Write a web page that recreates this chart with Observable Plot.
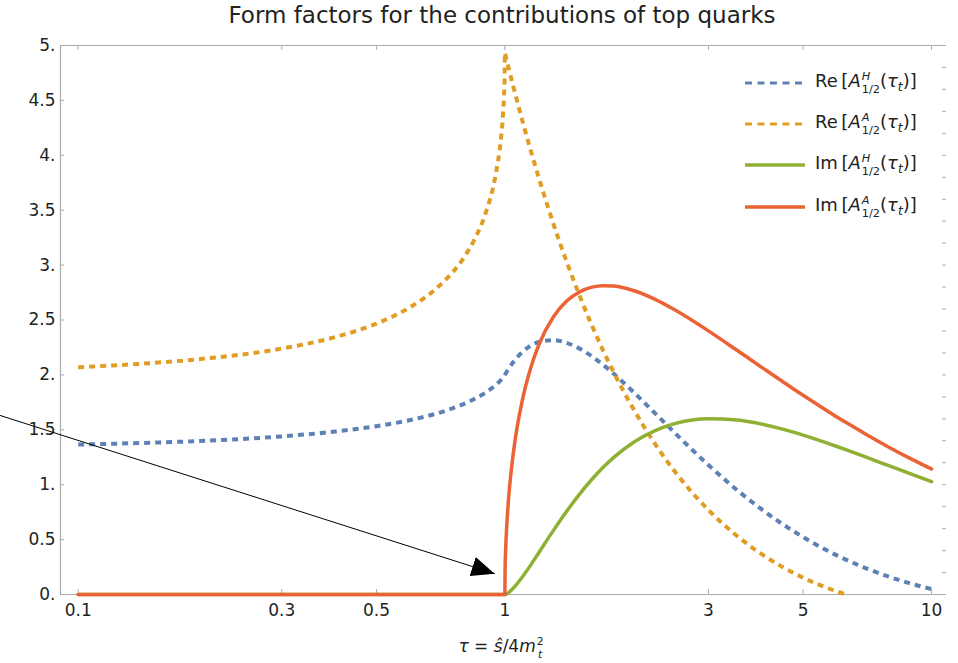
<!DOCTYPE html>
<html>
<head>
<meta charset="utf-8">
<script src="https://cdn.jsdelivr.net/npm/d3@7"></script>
<script src="https://cdn.jsdelivr.net/npm/@observablehq/plot@0.6"></script>
<style>
  html, body { margin: 0; padding: 0; background: #fff; }
  #wrap { position: relative; width: 958px; height: 663px; font-family: "DejaVu Sans", sans-serif; color: #222; }
  #title { position: absolute; top: 2px; left: 0; width: 1004px; text-align: center; font-size: 23px; }
  #xlabel { position: absolute; top: 636px; left: 0; width: 1002px; text-align: center; font-size: 17px; }
  .legend-row { position: absolute; left: 744px; height: 30px; display: flex; align-items: center; font-size: 18px; white-space: nowrap; }
  .legend-row svg { margin-right: 9px; }
  .ss { display: inline-flex; flex-direction: column; font-size: 0.63em; line-height: 1.17; vertical-align: 0.66em; margin-left: 1px; }
  .ss span { display: block; }
  .sub { font-size: 0.68em; vertical-align: -0.3em; }
  i { font-style: italic; }
</style>
</head>
<body>
<div id="wrap">
  <div id="chart"></div>
  <div id="title">Form factors for the contributions of top quarks</div>
  <div id="legend"></div>
  <div id="xlabel"><i>τ</i> = <i>ŝ</i>/4<i>m</i><span class="ss" style="vertical-align:0.62em"><span>2</span><span><i>t</i></span></span></div>
</div>
<script>
// ---- data ----
const tau = [0.1, 0.15, 0.2, 0.3, 0.4, 0.5, 0.6, 0.7, 0.8, 0.85, 0.9, 0.95, 0.98, 0.99, 0.995, 0.999, 1,
  1.001, 1.005, 1.01, 1.02, 1.05, 1.1, 1.15, 1.2, 1.3, 1.4, 1.5, 1.6, 1.7, 1.8, 2, 2.25, 2.5, 3, 3.5, 4, 4.5, 5, 5.5, 6, 6.296, 7, 8, 9, 10];

const reH = [1.366, 1.383, 1.401, 1.440, 1.484, 1.533, 1.589, 1.654, 1.734, 1.782, 1.837, 1.905, 1.956, 1.976, 1.987, 1.997, 2.000,
  2.003, 2.014, 2.028, 2.055, 2.124, 2.210, 2.266, 2.300, 2.317, 2.290, 2.237, 2.169, 2.091, 2.010, 1.845, 1.650, 1.473, 1.179, 0.952, 0.775, 0.635, 0.523, 0.431, 0.356, 0.318, 0.241, 0.158, 0.096, 0.049];

const reA = [2.070, 2.109, 2.150, 2.240, 2.344, 2.467, 2.617, 2.807, 3.064, 3.238, 3.467, 3.810, 4.167, 4.369, 4.523, 4.743, 4.935,
  4.928, 4.900, 4.866, 4.799, 4.606, 4.310, 4.042, 3.799, 3.374, 3.017, 2.712, 2.449, 2.221, 2.022, 1.691, 1.370, 1.122, 0.769, 0.533, 0.367, 0.245, 0.153, 0.083, 0.027, 0, null, null, null, null];

const imH = [0, 0, 0, 0, 0, 0, 0, 0, 0, 0, 0, 0, 0, 0, 0, 0, 0,
  0.0002, 0.0022, 0.0061, 0.0170, 0.0632, 0.1616, 0.2695, 0.3783, 0.5839, 0.7649, 0.9194, 1.0495, 1.1582, 1.2484, 1.3845, 1.4931, 1.5558, 1.6004, 1.5887, 1.5515, 1.5034, 1.4513, 1.3989, 1.3478, 1.3186, 1.2527, 1.1683, 1.0939, 1.0283];

const imA = [0, 0, 0, 0, 0, 0, 0, 0, 0, 0, 0, 0, 0, 0, 0, 0, 0,
  0.198, 0.442, 0.621, 0.868, 1.327, 1.777, 2.066, 2.270, 2.530, 2.677, 2.758, 2.799, 2.813, 2.809, 2.769, 2.688, 2.593, 2.401, 2.224, 2.069, 1.933, 1.814, 1.710, 1.617, 1.568, 1.462, 1.335, 1.231, 1.143];

const seriesNames = ["Re[A^H_1/2(τ_t)]", "Re[A^A_1/2(τ_t)]", "Im[A^H_1/2(τ_t)]", "Im[A^A_1/2(τ_t)]"];
const seriesColors = ["#5E81B5", "#E19C24", "#8FB032", "#EB6235"];

const xTicks = [0.1, 0.3, 0.5, 1, 3, 5, 10];
const yTicks = [0, 0.5, 1, 1.5, 2, 2.5, 3, 3.5, 4, 4.5, 5];
const yRightTicks = [0.2, 0.4, 0.6, 0.8, 1, 1.2, 1.4, 1.6, 1.8, 2, 2.2, 2.4, 2.6, 2.8, 3, 3.2, 3.4, 3.6, 3.8, 4, 4.2, 4.4, 4.6, 4.8];
const xDomain = [0.0909, 10.84];
const yDomain = [0, 5];

// annotation arrow: start (off left of the frame) and tip near tau = 1
const arrowPts = [{x: 0.0657, y: 1.63}, {x: 0.946, y: 0.19}];

// ---- chart ----
const W = 958, H = 663, mT = 45, mB = 69, mL = 60, mR = 12;
const innerH = H - mT - mB, innerW = W - mL - mR;
const frameColor = "#aaaaaa";

function headMarker(color) {
  const m = d3.create("svg:marker")
    .attr("viewBox", "0 -10 23 20")
    .attr("refX", 23).attr("refY", 0)
    .attr("markerWidth", 23).attr("markerHeight", 20)
    .attr("markerUnits", "userSpaceOnUse")
    .attr("orient", "auto");
  m.append("path").attr("d", "M0,-10L23,0L0,10Z").attr("fill", color).attr("stroke", "none");
  return m.node();
}

const dashed = {strokeWidth: 4, strokeDasharray: "6,5", strokeLinecap: "butt"};
const solid = {strokeWidth: 3.5, strokeLinejoin: "round"};

const chart = Plot.plot({
  width: W, height: H,
  marginTop: mT, marginBottom: mB, marginLeft: mL, marginRight: mR,
  style: {fontFamily: "DejaVu Sans, sans-serif", fontSize: "17px", color: "#222", background: "transparent"},
  x: {type: "log", domain: xDomain, axis: null},
  y: {domain: yDomain, axis: null},
  marks: [
    // frame (left, bottom, top)
    Plot.ruleX([xDomain[0]], {stroke: frameColor, strokeWidth: 1.2}),
    Plot.ruleY([yDomain[0]], {stroke: frameColor, strokeWidth: 1.2}),
    Plot.ruleY([yDomain[1]], {stroke: frameColor, strokeWidth: 1.2}),
    // inward ticks
    Plot.tickX(xTicks, {x: d => d, insetTop: innerH - 5, stroke: frameColor}),
    Plot.tickX(xTicks, {x: d => d, insetBottom: innerH - 5, stroke: frameColor}),
    Plot.tickY(yTicks, {y: d => d, insetRight: innerW - 4, stroke: frameColor}),
    Plot.tickY(yRightTicks, {y: d => d, insetLeft: innerW - 4, stroke: frameColor}),
    // tick labels
    Plot.axisX({ticks: xTicks, tickSize: 0, tickPadding: 9, tickFormat: d => String(d), fontSize: 17, color: "#222", label: null}),
    Plot.axisY({ticks: yTicks, tickSize: 0, tickPadding: 5, tickFormat: d => Number.isInteger(d) ? d + "." : String(d), fontSize: 17, color: "#222", label: null}),
    // curves
    Plot.line(tau, {x: d => d, y: reH, stroke: seriesColors[0], curve: "monotone-x", ...dashed}),
    Plot.line(tau, {x: d => d, y: reA, stroke: seriesColors[1], curve: "monotone-x", ...dashed}),
    Plot.line(tau, {x: d => d, y: imH, stroke: seriesColors[2], curve: "monotone-x", ...solid}),
    Plot.line(tau, {x: d => d, y: imA, stroke: seriesColors[3], curve: "monotone-x", ...solid}),
    // annotation arrow
    Plot.line(arrowPts, {x: "x", y: "y", stroke: "black", strokeWidth: 1, markerEnd: headMarker})
  ]
});
document.getElementById("chart").appendChild(chart);

// ---- legend ----
const legendTops = [68, 109, 150, 192];
const legend = document.getElementById("legend");
seriesNames.forEach((name, i) => {
  const part = name.slice(0, 2);
  const sup = name.includes("^H") ? "H" : "A";
  const row = document.createElement("div");
  row.className = "legend-row";
  row.style.top = legendTops[i] + "px";
  const isDashed = i < 2;
  row.innerHTML =
    `<svg width="62" height="10"><line x1="1" x2="61" y1="5" y2="5" stroke="${seriesColors[i]}" stroke-width="${isDashed ? 3 : 3.5}" ${isDashed ? 'stroke-dasharray="7,5.5"' : ''}/></svg>` +
    `<span>${part}\u2009[<i>A</i><span class="ss"><span><i>${sup}</i></span><span>1/2</span></span>(<i>τ</i><sub class="sub"><i>t</i></sub>)]</span>`;
  legend.appendChild(row);
});
</script>
</body>
</html>
